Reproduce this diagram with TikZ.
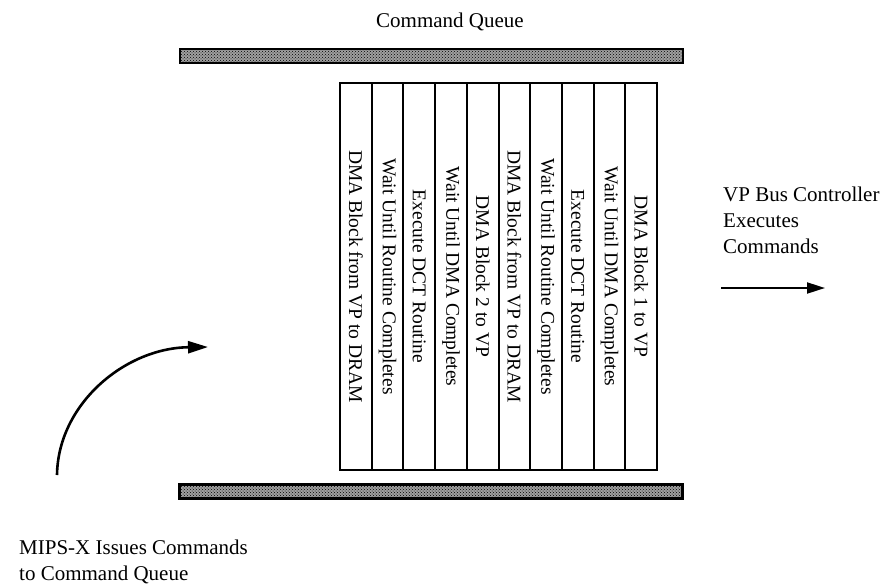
\documentclass[tikz,border=0pt]{standalone}
\usepackage{fontspec}
\setmainfont{Liberation Serif}
\usetikzlibrary{arrows.meta,patterns,positioning}

\tikzset{
  qbar/.style={draw, line width=2.8pt, fill=gray!75,
    postaction={pattern=crosshatch dots},
    minimum width=503pt, minimum height=14pt, inner sep=0pt},
  cmdbox/.style={draw, line width=2pt, rotate=-90, inner sep=0pt,
    minimum width=387pt, minimum height=31.7pt,
    font=\fontsize{19.5}{22}\selectfont},
  lbl/.style={inner sep=0pt, align=left, font=\fontsize{21}{26}\selectfont}
}

\begin{document}
\begin{tikzpicture}[x=1pt, y=-1pt]
            \useasboundingbox (0,0) rectangle (881,587);

            % queue rails
            \node[qbar] (QTop) at (431.5,56) {};
            \node[qbar] (QBot) at (431,491.5) {};
            \node[lbl, anchor=base] (QName) at (450,27) {Command Queue};

            % the commands waiting in the queue
            \begin{scope}
                \foreach \cmd [count=\i] in {DMA Block from VP to DRAM,
                    Wait Until Routine Completes, Execute DCT Routine,
                    Wait Until DMA Completes, DMA Block 2 to VP,
                    DMA Block from VP to DRAM, Wait Until Routine Completes,
                    Execute DCT Routine, Wait Until DMA Completes,
                    DMA Block 1 to VP}
                    \node[cmdbox] (C\i) at ({340+31.7*(\i-0.5)},276.5) {\cmd};
            \end{scope}

            % issuer and consumer
            \node[lbl, anchor=north west] (VPC) at (723,186.5)
                {VP Bus Controller\\Executes\\Commands};
            \node[lbl, anchor=north west] (MIPS) at (19,540)
                {MIPS-X Issues Commands\\to Command Queue};

            \coordinate (OutA) at (721,288);
            \coordinate (OutB) at (825,288);
            \coordinate (InA) at (57,475);
            \coordinate (InB) at (208,347);

            \draw[line width=2pt, -{Triangle[length=18pt,width=11pt]}] (OutA) -- (OutB);
            \draw[line width=2.6pt, -{Triangle[length=20pt,width=12pt]}]
                (InA) .. controls (58,404) and (125,348) .. (InB);
        \end{tikzpicture}
\end{document}
